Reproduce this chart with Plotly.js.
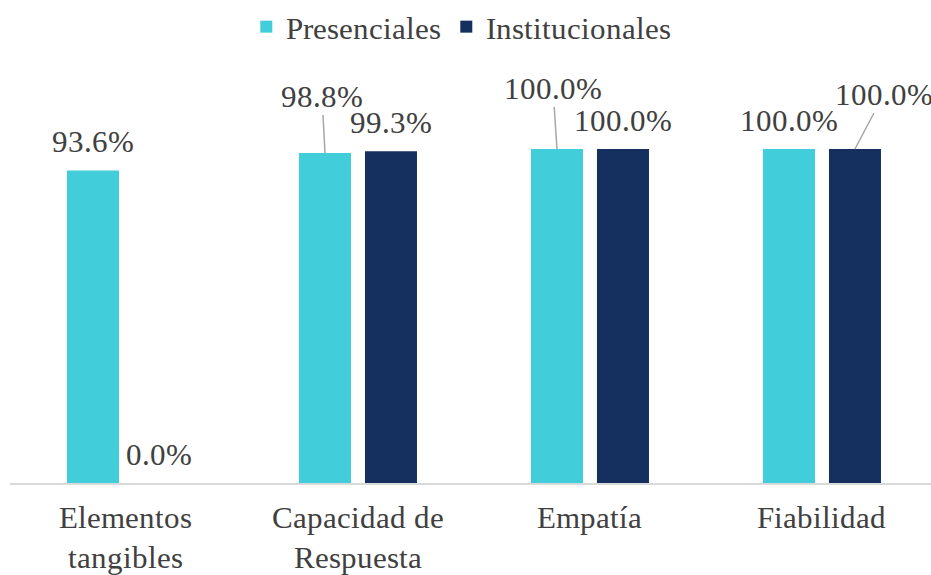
<!DOCTYPE html>
<html>
<head>
<meta charset="utf-8">
<script src="https://cdn.plot.ly/plotly-3.0.1.min.js"></script>
<style>
@font-face{
  font-family:'RefSerif';
  src: local('Liberation Serif'), local('LiberationSerif'), local('LiberationSerif-Regular'),
       local('Liberation Serif Regular'), local('Tinos'), local('Tinos-Regular'),
       local('Times New Roman'), local('TimesNewRomanPSMT'), local('DejaVu Serif');
  font-weight:normal; font-style:normal;
}
html,body{margin:0;padding:0;background:#fff;overflow:hidden;font-family:'RefSerif','Liberation Serif',serif}
#chart svg text{font-family:'RefSerif','Liberation Serif','Tinos','Times New Roman',serif !important}
</style>
</head>
<body>
<div id="chart" style="position:absolute;left:0;top:0;width:931px;height:575px"></div>
<script>
// ---- data ----
var categories = ['Elementos<br>tangibles', 'Capacidad de<br>Respuesta', 'Empatía', 'Fiabilidad'];
var seriesNames = ['Presenciales', 'Institucionales'];
var presenciales = [93.6, 98.8, 100.0, 100.0];
var institucionales = [0.0, 99.3, 100.0, 100.0];

(function () {
  // ---- styles ----
  var colors = ['#41CDD9', '#152F5F'];
  var FS = 31;
  var barShift = 33; // px from category centre to bar centre
  // leader-line offsets (px) for labels moved away from their bars
  var leaders = {
    '0-1': {ax: -3, ay: -57},
    '0-2': {ax: -4, ay: -61},
    '1-3': {ax: 29, ay: -55}
  };

  var series = [presenciales, institucionales];
  function build() {
    var traces = series.map(function (vals, s) {
      return {
        type: 'bar', name: seriesNames[s], x: categories, y: vals,
        marker: {color: colors[s]}, hoverinfo: 'none'
      };
    });

    var notes = [];
    series.forEach(function (vals, s) {
      vals.forEach(function (v, i) {
        var key = s + '-' + i;
        var a = {
          x: categories[i], y: v, xref: 'x', yref: 'y',
          xshift: s === 0 ? -barShift : barShift,
          text: v.toFixed(1) + '%'
        };
        if (leaders[key]) {
          a.showarrow = true; a.arrowhead = 0; a.arrowwidth = 1.5; a.arrowcolor = '#A6A6A6';
          a.ax = leaders[key].ax; a.ay = leaders[key].ay; a.standoff = 0;
        } else {
          a.showarrow = false; a.yanchor = 'bottom'; a.yshift = 9;
        }
        notes.push(a);
      });
    });

    var lay = {
      width: 931, height: 575,
      margin: {l: 10, r: 0, t: 148, b: 92},
      barmode: 'group', bargap: 0.431, bargroupgap: 0.212,
      font: {family: 'RefSerif', size: FS, color: '#404040'},
      showlegend: true,
      legend: {orientation: 'h', x: 0.49, xanchor: 'center', y: 1.446, yanchor: 'top', traceorder: 'normal'},
      xaxis: {
        type: 'category', range: [-0.5, 3.47],
        showline: true, linecolor: '#D9D9D9', linewidth: 1.5,
        ticks: '', showgrid: false, zeroline: false, ticklabelstandoff: 6, fixedrange: true
      },
      yaxis: {range: [0, 100], visible: false, showgrid: false, zeroline: false, fixedrange: true},
      annotations: notes
    };
    return Plotly.newPlot('chart', traces, lay, {staticPlot: true});
  }

  build();
  if (document.fonts && document.fonts.load) {
    document.fonts.load('31px RefSerif').then(function () { build(); }, function () {});
  }
  setTimeout(build, 300);
})();
</script>
</body>
</html>
